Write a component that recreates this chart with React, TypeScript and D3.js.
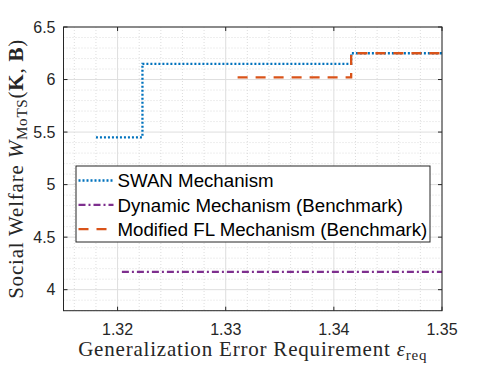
import React, { useEffect, useRef } from 'react';
import * as d3 from 'd3';

// axis ticks
const xTicks = [1.32, 1.33, 1.34, 1.35];
const yTicks = [4, 4.5, 5, 5.5, 6, 6.5];

// series (step lines)
const swanX = [1.318, 1.3223, 1.3416, 1.35];
const swanY = [5.45, 6.15, 6.25, 6.25];
const dynamicX = [1.3204, 1.35];
const dynamicY = [4.17, 4.17];
const flX = [1.3311, 1.3416, 1.35];
const flY = [6.02, 6.25, 6.25];

const seriesNames = ['SWAN Mechanism', 'Dynamic Mechanism (Benchmark)', 'Modified FL Mechanism (Benchmark)'];
const seriesColors = ['#0072BD', '#7E2F8E', '#D95319'];
const seriesDash = ['2,2', '7,3,2,3', '10,8'];

const W = 488;
const H = 366;
const box = { left: 63.5, right: 442, top: 27, bottom: 310.7 };

const App = () => {
  const ref = useRef<SVGSVGElement>(null);

  useEffect(() => {
    const svg = d3.select(ref.current);
    svg.selectAll('*').remove();

    const x = d3.scaleLinear().domain([1.315, 1.35]).range([box.left, box.right]);
    const y = d3.scaleLinear().domain([3.8, 6.5]).range([box.bottom, box.top]);

    svg.append('rect').attr('width', W).attr('height', H).attr('fill', '#fff');

    // minor grid
    const xMinor = d3.range(1.316, 1.3499, 0.002).filter(v => !xTicks.some(t => Math.abs(t - v) < 1e-6));
    const yMinor = d3.range(3.8, 6.49, 0.1).filter(v => !yTicks.some(t => Math.abs(t - v) < 1e-6));
    const grid = svg.append('g');
    grid.selectAll('line.xm').data(xMinor).enter().append('line')
      .attr('x1', d => x(d)).attr('x2', d => x(d)).attr('y1', box.top).attr('y2', box.bottom)
      .attr('stroke', '#cfcfcf').attr('stroke-width', 0.7).attr('stroke-dasharray', '1,2');
    grid.selectAll('line.ym').data(yMinor).enter().append('line')
      .attr('y1', d => y(d)).attr('y2', d => y(d)).attr('x1', box.left).attr('x2', box.right)
      .attr('stroke', '#cfcfcf').attr('stroke-width', 0.7).attr('stroke-dasharray', '1,2');
    // major grid
    grid.selectAll('line.xM').data(xTicks).enter().append('line')
      .attr('x1', d => x(d)).attr('x2', d => x(d)).attr('y1', box.top).attr('y2', box.bottom)
      .attr('stroke', '#dedede').attr('stroke-width', 1);
    grid.selectAll('line.yM').data(yTicks).enter().append('line')
      .attr('y1', d => y(d)).attr('y2', d => y(d)).attr('x1', box.left).attr('x2', box.right)
      .attr('stroke', '#dedede').attr('stroke-width', 1);

    // series
    const series = [
      d3.zip(swanX, swanY),
      d3.zip(dynamicX, dynamicY),
      d3.zip(flX, flY),
    ];
    const line = d3.line<number[]>()
      .x(d => x(d[0]))
      .y(d => y(d[1]))
      .curve(d3.curveStepAfter);
    series.forEach((s, i) => {
      svg.append('path')
        .attr('d', line(s))
        .attr('fill', 'none')
        .attr('stroke', seriesColors[i])
        .attr('stroke-width', 2.3)
        .attr('stroke-dasharray', seriesDash[i]);
    });

    // axes box + ticks (inward, all sides)
    const axisColor = '#262626';
    const tl = 4;
    svg.append('rect')
      .attr('x', box.left).attr('y', box.top)
      .attr('width', box.right - box.left).attr('height', box.bottom - box.top)
      .attr('fill', 'none').attr('stroke', axisColor).attr('stroke-width', 1);
    const ticks = svg.append('g').attr('stroke', axisColor).attr('stroke-width', 1);
    xTicks.forEach(t => {
      ticks.append('line').attr('x1', x(t)).attr('x2', x(t)).attr('y1', box.bottom).attr('y2', box.bottom - tl);
      ticks.append('line').attr('x1', x(t)).attr('x2', x(t)).attr('y1', box.top).attr('y2', box.top + tl);
    });
    yTicks.forEach(t => {
      ticks.append('line').attr('y1', y(t)).attr('y2', y(t)).attr('x1', box.left).attr('x2', box.left + tl);
      ticks.append('line').attr('y1', y(t)).attr('y2', y(t)).attr('x1', box.right).attr('x2', box.right - tl);
    });

    // tick labels
    svg.selectAll('text.xt').data(xTicks).enter().append('text')
      .attr('x', d => x(d)).attr('y', 335)
      .attr('text-anchor', 'middle')
      .attr('font-family', 'Liberation Sans, Arial, sans-serif').attr('font-size', 16)
      .attr('fill', axisColor)
      .text(d => d3.format('.2f')(d));
    svg.selectAll('text.yt').data(yTicks).enter().append('text')
      .attr('x', 55.5).attr('y', d => y(d)).attr('dy', '0.36em')
      .attr('text-anchor', 'end')
      .attr('font-family', 'Liberation Sans, Arial, sans-serif').attr('font-size', 16)
      .attr('fill', axisColor)
      .text(d => String(d));

    // axis labels
    const serif = 'Liberation Serif, Times New Roman, serif';
    const xl = svg.append('text')
      .attr('x', (box.left + box.right) / 2).attr('y', 356)
      .attr('text-anchor', 'middle')
      .attr('font-family', serif).attr('font-size', 21).attr('letter-spacing', 0.8)
      .attr('fill', axisColor);
    xl.append('tspan').text('Generalization Error Requirement ');
    xl.append('tspan').attr('font-style', 'italic').text('ε');
    xl.append('tspan').attr('font-size', 15).attr('dy', 4).text('req');

    const yl = svg.append('text')
      .attr('transform', `translate(23,${(box.top + box.bottom) / 2}) rotate(-90)`)
      .attr('text-anchor', 'middle')
      .attr('font-family', serif).attr('font-size', 21).attr('letter-spacing', 0.8)
      .attr('fill', axisColor);
    yl.append('tspan').text('Social Welfare ');
    yl.append('tspan').attr('font-style', 'italic').text('W');
    yl.append('tspan').attr('font-size', 15).attr('dy', 4).text('MoTS');
    yl.append('tspan').attr('dy', -4).text('(');
    yl.append('tspan').attr('font-weight', 'bold').text('K');
    yl.append('tspan').text(', ');
    yl.append('tspan').attr('font-weight', 'bold').text('B');
    yl.append('tspan').text(')');

    // legend
    const lg = svg.append('g');
    lg.append('rect')
      .attr('x', 76).attr('y', 166).attr('width', 354).attr('height', 76)
      .attr('fill', '#fff').attr('stroke', axisColor).attr('stroke-width', 1);
    seriesNames.forEach((name, i) => {
      const ly = 180.5 + i * 24.3;
      lg.append('line')
        .attr('x1', 78.5).attr('x2', 113.5).attr('y1', ly).attr('y2', ly)
        .attr('stroke', seriesColors[i]).attr('stroke-width', 2.3)
        .attr('stroke-dasharray', seriesDash[i]);
      lg.append('text')
        .attr('x', 117.5).attr('y', ly).attr('dy', '0.36em')
        .attr('font-family', 'Liberation Sans, Arial, sans-serif').attr('font-size', 18.7)
        .attr('fill', '#000')
        .text(name);
    });
  }, []);

  return (
    <svg ref={ref} width={W} height={H} style={{ position: 'absolute', left: 0, top: 0 }} />
  );
};

export default App;
